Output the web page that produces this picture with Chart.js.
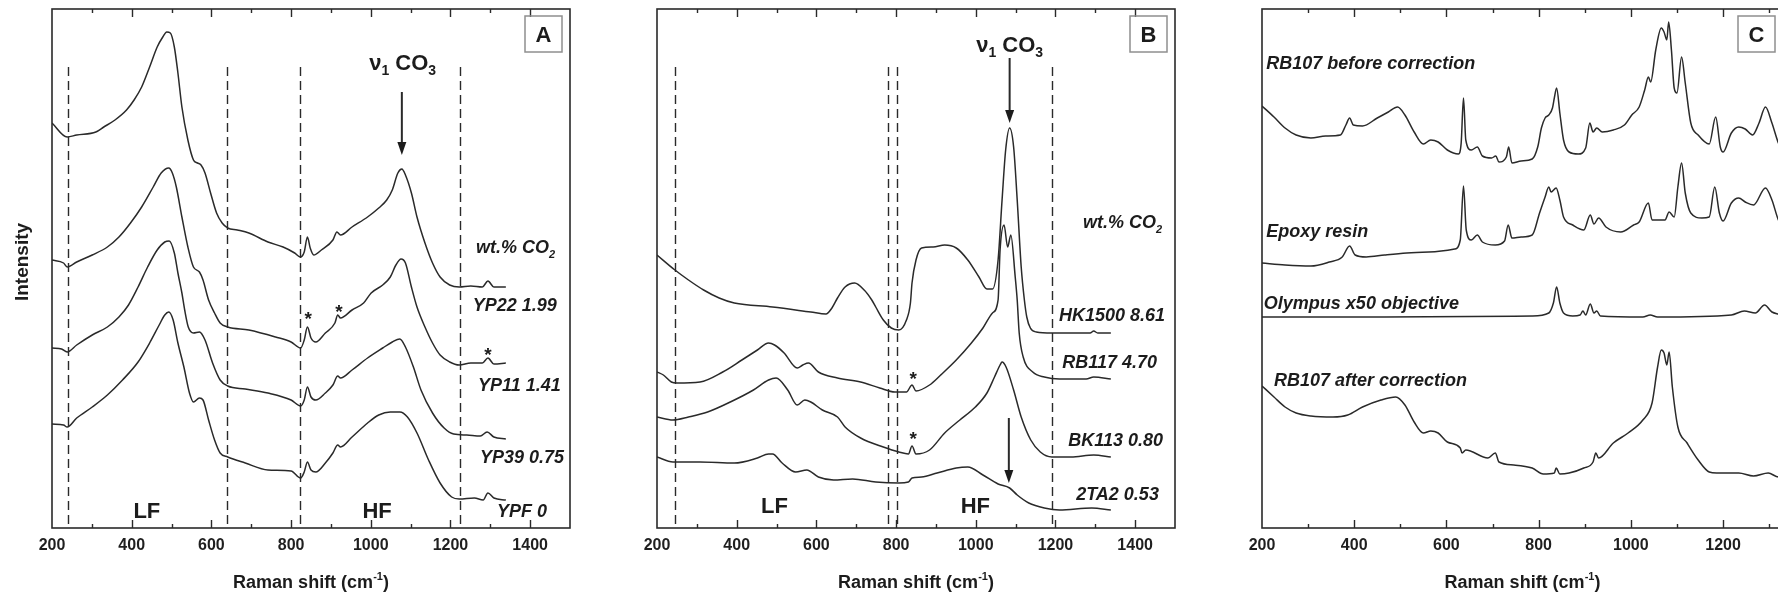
<!DOCTYPE html>
<html>
<head>
<meta charset="utf-8">
<title>Raman spectra of glasses</title>
<script src="https://cdn.jsdelivr.net/npm/chart.js@4.4.1/dist/chart.umd.min.js"></script>
<style>
  html, body { margin: 0; padding: 0; background: #fff; width: 1778px; height: 594px; overflow: hidden; }
  .panel { position: absolute; top: 0; }
</style>
</head>
<body>
<div class="panel" style="left:0px"><canvas id="panelA" width="600" height="594"></canvas></div>
<div class="panel" style="left:600px"><canvas id="panelB" width="600" height="594"></canvas></div>
<div class="panel" style="left:1200px"><canvas id="panelC" width="600" height="594"></canvas></div>
<script>
// ---------- Panel A: glasses with increasing CO2 (Raman shift cm-1 / intensity, a.u.) ----------
const shiftYP22 = [200,238,262,310,330,358,387,406,425,445,464,478,488,497,507,516,526,541,555,565,574,584,598,613,627,641,665,694,742,780,809,823,833,841,848,857,876,905,915,924,953,992,1020,1040,1054,1068,1078,1087,1102,1116,1136,1155,1174,1198,1222,1251,1280,1294,1309,1339];
const intYP22   = [405,391,393,396,401,408,418,428,441,461,481,491,496,495,481,455,421,388,368,365,363,355,335,315,305,300,298,295,286,281,275,271,276,291,280,273,278,288,296,293,301,311,320,328,338,355,359,353,335,311,285,265,251,243,241,242,241,247,241,241];

const shiftYP11 = [200,229,238,262,301,339,368,397,425,454,474,493,502,512,526,541,555,570,579,593,608,622,641,694,761,800,824,833,841,850,862,886,910,917,924,953,982,1001,1030,1049,1063,1076,1087,1102,1116,1136,1155,1174,1198,1222,1251,1280,1294,1309,1339];
const intYP11   = [268,265,261,266,273,281,291,305,321,341,355,360,355,341,311,281,261,256,248,228,215,205,201,198,191,186,180,188,201,190,186,195,205,213,210,218,225,235,243,251,263,269,265,241,221,201,185,173,166,163,165,165,170,164,165];

const shiftYP39 = [200,224,238,262,301,339,368,392,416,440,464,483,494,507,516,526,533,542,555,570,584,603,622,641,685,742,800,824,833,841,850,862,886,905,917,924,953,992,1030,1054,1073,1087,1107,1126,1155,1184,1208,1241,1275,1292,1309,1339];
const intYP39   = [180,179,176,183,193,201,211,223,241,261,278,286,287,275,255,235,218,201,195,196,188,165,148,142,139,135,128,122,128,141,131,128,135,143,152,150,158,170,180,186,189,181,161,138,115,100,94,93,92,96,91,89];

const shiftYPF = [200,229,238,262,301,339,377,416,445,469,483,493,504,516,531,545,555,570,579,593,608,622,641,685,742,800,824,833,841,850,862,886,905,917,924,953,992,1020,1049,1073,1092,1116,1145,1174,1203,1222,1260,1282,1294,1309,1339];
const intYPF   = [104,103,101,110,121,133,148,166,185,203,213,216,208,185,161,135,126,130,128,108,88,75,71,65,58,57,50,56,66,58,56,65,75,83,81,91,105,113,116,116,111,95,68,45,31,29,30,28,35,30,28];

const labelsA = ['YP22 1.99', 'YP11 1.41', 'YP39 0.75', 'YPF 0'];

// ---------- Panel B ----------
const shiftHK1500 = [200,245,279,317,356,394,490,586,624,639,653,672,696,720,739,749,768,788,807,826,836,840,850,864,893,922,951,980,1008,1028,1042,1056,1066,1075,1085,1095,1104,1114,1122,1128,1137,1152,1191,1287,1296,1306,1339];
const intHK1500   = [273,258,248,238,230,225,221,216,214,220,230,241,245,238,228,221,208,200,198,208,225,245,268,280,281,283,280,268,251,239,239,268,328,378,400,381,328,261,228,211,200,196,195,195,197,195,195];

const shiftRB117 = [200,216,236,250,308,365,413,452,480,495,519,552,566,580,605,653,711,759,797,826,840,850,884,912,951,989,1018,1042,1056,1061,1071,1080,1088,1099,1104,1109,1119,1143,1172,1210,1277,1296,1339];
const intRB117   = [156,153,146,145,146,156,168,178,185,183,175,160,163,165,156,150,146,140,136,136,143,137,143,153,168,185,200,215,228,278,303,281,293,251,228,195,171,156,151,149,149,151,149];

const shiftBK113 = [200,240,279,327,384,442,480,499,528,552,571,586,615,653,672,711,768,807,831,840,850,884,922,960,999,1028,1047,1061,1066,1076,1095,1114,1138,1162,1191,1239,1296,1339];
const intBK113   = [111,108,111,116,126,138,148,150,138,123,128,126,118,111,101,90,81,76,74,82,74,78,95,108,121,135,151,163,166,161,138,111,88,76,71,71,73,71];

const shift2TA2 = [200,240,308,394,452,480,490,514,548,576,605,643,691,749,807,831,840,864,903,951,980,1018,1056,1085,1104,1133,1172,1210,1291,1339];
const int2TA2   = [71,66,66,65,70,74,74,65,56,58,51,48,49,46,45,46,50,51,55,60,61,53,44,40,33,25,20,18,20,18];

const labelsB = ['HK1500 8.61', 'RB117 4.70', 'BK113 0.80', '2TA2 0.53'];

// ---------- Panel C: epoxy / objective background removal ----------
const shiftBefore = [200,226,250,274,306,338,370,382,390,398,418,450,474,494,510,530,550,566,582,602,626,632,637,642,654,667,678,698,707,714,730,735,742,762,786,798,806,814,822,830,834,839,846,854,866,886,902,911,918,926,938,962,986,1002,1018,1030,1038,1043,1054,1066,1072,1078,1082,1088,1094,1100,1110,1118,1130,1146,1170,1184,1194,1200,1218,1234,1248,1264,1278,1292,1306,1320,1332];
const intBefore   = [422,411,400,393,390,392,393,403,410,403,402,410,416,421,413,396,384,388,386,378,374,385,430,388,378,381,372,370,372,366,371,381,365,367,369,381,400,410,413,420,430,440,415,388,376,374,380,405,396,400,396,398,403,413,421,438,451,446,478,500,496,488,506,478,440,435,471,445,405,393,384,411,381,376,395,401,399,393,405,421,405,385,375];

const shiftEpoxy = [200,250,306,346,374,390,402,426,466,514,562,618,630,637,643,654,667,678,706,726,734,742,762,786,802,814,822,827,838,846,854,874,898,912,920,930,946,978,1006,1018,1038,1046,1074,1083,1094,1102,1110,1118,1130,1154,1170,1182,1192,1200,1218,1234,1248,1266,1292,1306,1320,1332];
const intEpoxy   = [265,263,262,266,271,282,273,271,273,275,276,279,288,342,298,288,293,286,283,287,303,290,291,293,315,331,341,336,340,328,311,303,298,313,304,310,301,296,303,306,325,308,308,316,311,341,365,335,315,310,311,341,315,307,325,330,326,323,340,328,308,300];

const shiftObjective = [200,466,786,822,832,839,846,854,874,890,896,902,912,920,926,934,1026,1042,1058,1218,1246,1270,1290,1306,1320,1332];
const intObjective   = [211,211,212,215,225,241,225,215,212,213,217,213,224,215,217,212,211,213,211,213,217,215,223,216,214,213];

const shiftAfter = [200,226,250,274,306,354,386,418,458,490,510,530,550,566,582,602,630,634,642,690,706,714,746,786,810,834,838,846,866,898,918,924,930,962,994,1026,1046,1058,1066,1072,1078,1083,1090,1102,1122,1146,1170,1186,1234,1266,1298,1320,1332];
const intAfter   = [142,131,121,115,112,111,113,121,128,131,123,106,95,97,95,86,80,75,78,70,75,66,63,60,54,55,60,54,55,60,66,75,70,85,95,108,125,161,178,175,163,176,141,101,85,68,56,55,55,52,55,51,52];

const labelsC = ['RB107 before correction', 'Epoxy resin', 'Olympus x50 objective', 'RB107 after correction'];

const tickValues = [200, 400, 600, 800, 1000, 1200, 1400];

// ---------- drawing helpers ----------
const FONT = '"Liberation Sans", Arial, Helvetica, sans-serif';
const INK = '#2a2a2a';

function toPoints(shift, intensity) {
  return shift.map((x, i) => ({ x: x, y: intensity[i] }));
}

// draws a run of text pieces, each piece normal, subscript or superscript
function richText(ctx, parts, x, y, size, align, italic) {
  const style = (italic ? 'italic ' : '') + 'bold ';
  const fontFor = kind => style + (kind ? Math.round(size * 0.62) : size) + 'px ' + FONT;
  let total = 0;
  const widths = parts.map(([t, kind]) => {
    ctx.font = fontFor(kind);
    const w = ctx.measureText(t).width;
    total += w;
    return w;
  });
  let cx = align === 'center' ? x - total / 2 : (align === 'right' ? x - total : x);
  ctx.textAlign = 'left';
  ctx.textBaseline = 'alphabetic';
  parts.forEach(([t, kind], i) => {
    ctx.font = fontFor(kind);
    const dy = kind === 'sub' ? size * 0.24 : (kind === 'sup' ? -size * 0.42 : 0);
    ctx.fillText(t, cx, y + dy);
    cx += widths[i];
  });
}

function decorations(cfg) {
  return {
    id: 'decor',
    beforeDatasetsDraw(chart) {
      const { ctx, chartArea: a, scales: { x: xs, y: ys } } = chart;
      ctx.save();
      ctx.strokeStyle = INK;
      ctx.lineWidth = 1.4;
      ctx.setLineDash([9, 5]);
      cfg.guides.forEach(v => {
        const px = Math.round(xs.getPixelForValue(v)) + 0.5;
        ctx.beginPath();
        ctx.moveTo(px, ys.getPixelForValue(cfg.guideTop));
        ctx.lineTo(px, a.bottom);
        ctx.stroke();
      });
      ctx.restore();
    },
    afterDraw(chart) {
      const { ctx, chartArea: a, scales: { x: xs, y: ys } } = chart;
      const X = v => xs.getPixelForValue(v);
      const Y = v => ys.getPixelForValue(v);
      ctx.save();
      ctx.strokeStyle = INK;
      ctx.fillStyle = '#1c1c1c';

      // frame
      ctx.lineWidth = 1.6;
      ctx.strokeRect(a.left, a.top, a.right - a.left, a.bottom - a.top);

      // inward tick marks on the bottom and top edges
      ctx.lineWidth = 1.4;
      for (let v = xs.min + 100; v < xs.max; v += 100) {
        const px = Math.round(X(v)) + 0.5;
        const len = v % 200 === 0 ? 8 : 4;
        ctx.beginPath();
        ctx.moveTo(px, a.bottom); ctx.lineTo(px, a.bottom - len);
        ctx.moveTo(px, a.top); ctx.lineTo(px, a.top + len);
        ctx.stroke();
      }

      // arrows pointing down
      (cfg.arrows || []).forEach(([v, top, bottom]) => {
        const px = X(v), y0 = Y(top), y1 = Y(bottom);
        ctx.lineWidth = 2;
        ctx.beginPath(); ctx.moveTo(px, y0); ctx.lineTo(px, y1 - 10); ctx.stroke();
        ctx.beginPath();
        ctx.moveTo(px - 4.5, y1 - 13); ctx.lineTo(px + 4.5, y1 - 13); ctx.lineTo(px, y1);
        ctx.closePath(); ctx.fill();
      });

      // text labels (y given at the middle of the capitals)
      (cfg.texts || []).forEach(t => {
        richText(ctx, t.parts, X(t.x), Y(t.y) + 0.358 * t.size, t.size, t.align || 'left', t.italic);
      });

      // asterisks over contamination peaks
      ctx.font = 'bold 19px ' + FONT;
      ctx.textAlign = 'center';
      ctx.textBaseline = 'alphabetic';
      (cfg.stars || []).forEach(([v, h]) => ctx.fillText('*', X(v), Y(h) + 0.56 * 19));

      // panel letter box
      ctx.strokeStyle = '#8f8f8f';
      ctx.lineWidth = 1.5;
      const bx = a.right - 45, by = a.top + 7;
      ctx.strokeRect(bx, by, 37, 36);
      ctx.font = 'bold 22px ' + FONT;
      ctx.textAlign = 'center';
      ctx.fillText(cfg.letter, bx + 18.5, by + 18 + 0.358 * 22);

      // axis titles
      richText(ctx, [['Raman shift (cm', ''], ['-1', 'sup'], [')', '']], (a.left + a.right) / 2, 588, 18, 'center', false);
      if (cfg.yTitle) {
        ctx.save();
        ctx.translate(28, 262);
        ctx.rotate(-Math.PI / 2);
        ctx.font = 'bold 19px ' + FONT;
        ctx.textAlign = 'center';
        ctx.textBaseline = 'alphabetic';
        ctx.fillText(cfg.yTitle, 0, 0);
        ctx.restore();
      }
      ctx.restore();
    }
  };
}

function makePanel(id, xMax, padLeft, padRight, series, cfg) {
  return new Chart(document.getElementById(id), {
    type: 'line',
    data: {
      datasets: series.map(s => ({
        data: s,
        borderColor: INK,
        borderWidth: 1.5,
        pointRadius: 0,
        fill: false,
        cubicInterpolationMode: 'monotone'
      }))
    },
    options: {
      responsive: false,
      animation: false,
      devicePixelRatio: 1,
      events: [],
      layout: { padding: { left: padLeft, right: padRight, top: 9, bottom: 30.8 } },
      plugins: { legend: { display: false }, tooltip: { enabled: false } },
      scales: {
        x: {
          type: 'linear', min: 200, max: xMax,
          grid: { display: false, drawTicks: false },
          border: { display: false },
          afterBuildTicks: scale => { scale.ticks = tickValues.filter(v => v < scale.max).map(v => ({ value: v })); },
          ticks: {
            padding: 8, maxRotation: 0, autoSkip: false, color: '#1f1f1f',
            font: { family: FONT, size: 16, weight: 'bold' },
            callback: v => String(v)
          }
        },
        y: { display: false, min: 0, max: 519 }
      }
    },
    plugins: [decorations(cfg)]
  });
}

const wtCO2 = [['wt.% CO', ''], ['2', 'sub']];
const nu1CO3 = [['\u03bd', ''], ['1', 'sub'], [' CO', ''], ['3', 'sub']];

makePanel('panelA', 1500, 52, 30,
  [toPoints(shiftYP22, intYP22), toPoints(shiftYP11, intYP11), toPoints(shiftYP39, intYP39), toPoints(shiftYPF, intYPF)],
  {
    letter: 'A',
    yTitle: 'Intensity',
    guides: [240, 640, 822, 1224], guideTop: 461,
    arrows: [[1078, 436, 373]],
    stars: [[843, 214], [920, 221], [1294, 178]],
    texts: [
      { parts: nu1CO3, x: 1080, y: 466, size: 22, align: 'center' },
      { parts: [['LF', '']], x: 438, y: 18, size: 22, align: 'center' },
      { parts: [['HF', '']], x: 1016, y: 18, size: 22, align: 'center' },
      { parts: wtCO2, x: 1264, y: 281, size: 18, italic: true },
      { parts: [[labelsA[0], '']], x: 1256, y: 223, size: 18, italic: true },
      { parts: [[labelsA[1], '']], x: 1269, y: 143, size: 18, italic: true },
      { parts: [[labelsA[2], '']], x: 1274, y: 71, size: 18, italic: true },
      { parts: [[labelsA[3], '']], x: 1317, y: 17, size: 18, italic: true }
    ]
  });

makePanel('panelB', 1500, 57, 25,
  [toPoints(shiftHK1500, intHK1500), toPoints(shiftRB117, intRB117), toPoints(shiftBK113, intBK113), toPoints(shift2TA2, int2TA2)],
  {
    letter: 'B',
    guides: [245, 780, 803, 1191], guideTop: 461,
    arrows: [[1085, 470, 405], [1083, 110, 45]],
    stars: [[843, 154], [843, 94]],
    texts: [
      { parts: nu1CO3, x: 1085, y: 484, size: 22, align: 'center' },
      { parts: [['LF', '']], x: 495, y: 23, size: 22, align: 'center' },
      { parts: [['HF', '']], x: 999, y: 23, size: 22, align: 'center' },
      { parts: wtCO2, x: 1269, y: 306, size: 18, italic: true },
      { parts: [[labelsB[0], '']], x: 1209, y: 213, size: 18, italic: true },
      { parts: [[labelsB[1], '']], x: 1217, y: 166, size: 18, italic: true },
      { parts: [[labelsB[2], '']], x: 1232, y: 88, size: 18, italic: true },
      { parts: [[labelsB[3], '']], x: 1252, y: 34, size: 18, italic: true }
    ]
  });

makePanel('panelC', 1330, 62, 17,
  [toPoints(shiftBefore, intBefore), toPoints(shiftEpoxy, intEpoxy), toPoints(shiftObjective, intObjective), toPoints(shiftAfter, intAfter)],
  {
    letter: 'C',
    guides: [], guideTop: 461,
    texts: [
      { parts: [[labelsC[0], '']], x: 209, y: 465, size: 18, italic: true },
      { parts: [[labelsC[1], '']], x: 209, y: 297, size: 18, italic: true },
      { parts: [[labelsC[2], '']], x: 204, y: 225, size: 18, italic: true },
      { parts: [[labelsC[3], '']], x: 226, y: 148, size: 18, italic: true }
    ]
  });
</script>
</body>
</html>
